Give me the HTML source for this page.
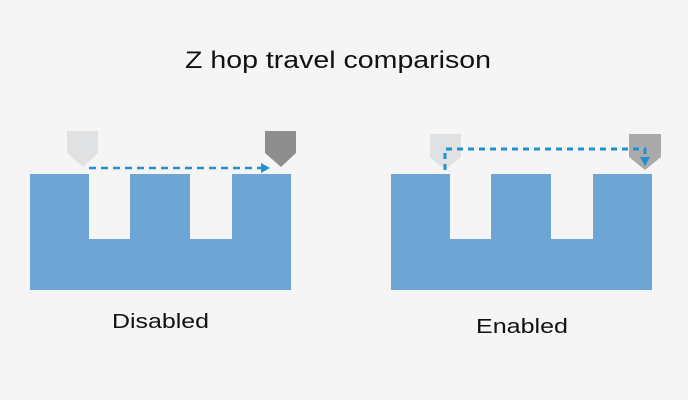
<!DOCTYPE html>
<html><head><meta charset="utf-8"><style>
body{margin:0;background:#f4f5f4}
svg{display:block}
text{font-family:"Liberation Sans",sans-serif;fill:#111}
</style></head><body>
<svg width="688" height="400" viewBox="0 0 688 400">
<rect width="688" height="400" fill="#f4f5f4"/>
<text x="185" y="68" font-size="24" textLength="306" lengthAdjust="spacingAndGlyphs">Z hop travel comparison</text>
<g>
<path d="M30,174H89V239H130V174H190V239H232V174H291V290H30Z" fill="#6ea5d4"/>
<path d="M67,131H98V153L83,167L67,153Z" fill="#e0e1e2"/>
<path d="M265,131H296V153L281,167L265,153Z" fill="#8e8e8e"/>
<line x1="89" y1="168" x2="262" y2="168" stroke="#2090d0" stroke-width="2.5" stroke-dasharray="7,5"/>
<path d="M261,163L270,168L261,173Z" fill="#2090d0"/>
<text x="112" y="328" font-size="20" textLength="97" lengthAdjust="spacingAndGlyphs">Disabled</text>
</g>
<g>
<path d="M391,174H450V239H491V174H551V239H593V174H652V290H391Z" fill="#6ea5d4"/>
<path d="M430,134H461V157L445,170L430,157Z" fill="#e0e1e2"/>
<path d="M629,134H661V157L645,170L629,157Z" fill="#aaaaaa"/>
<path d="M445,170V149H645V158" fill="none" stroke="#2090d0" stroke-width="3" stroke-dasharray="6,5"/>
<path d="M640,157L650,157L645,166Z" fill="#2090d0"/>
<text x="476" y="333" font-size="20" textLength="92" lengthAdjust="spacingAndGlyphs">Enabled</text>
</g>
</svg>
</body></html>
